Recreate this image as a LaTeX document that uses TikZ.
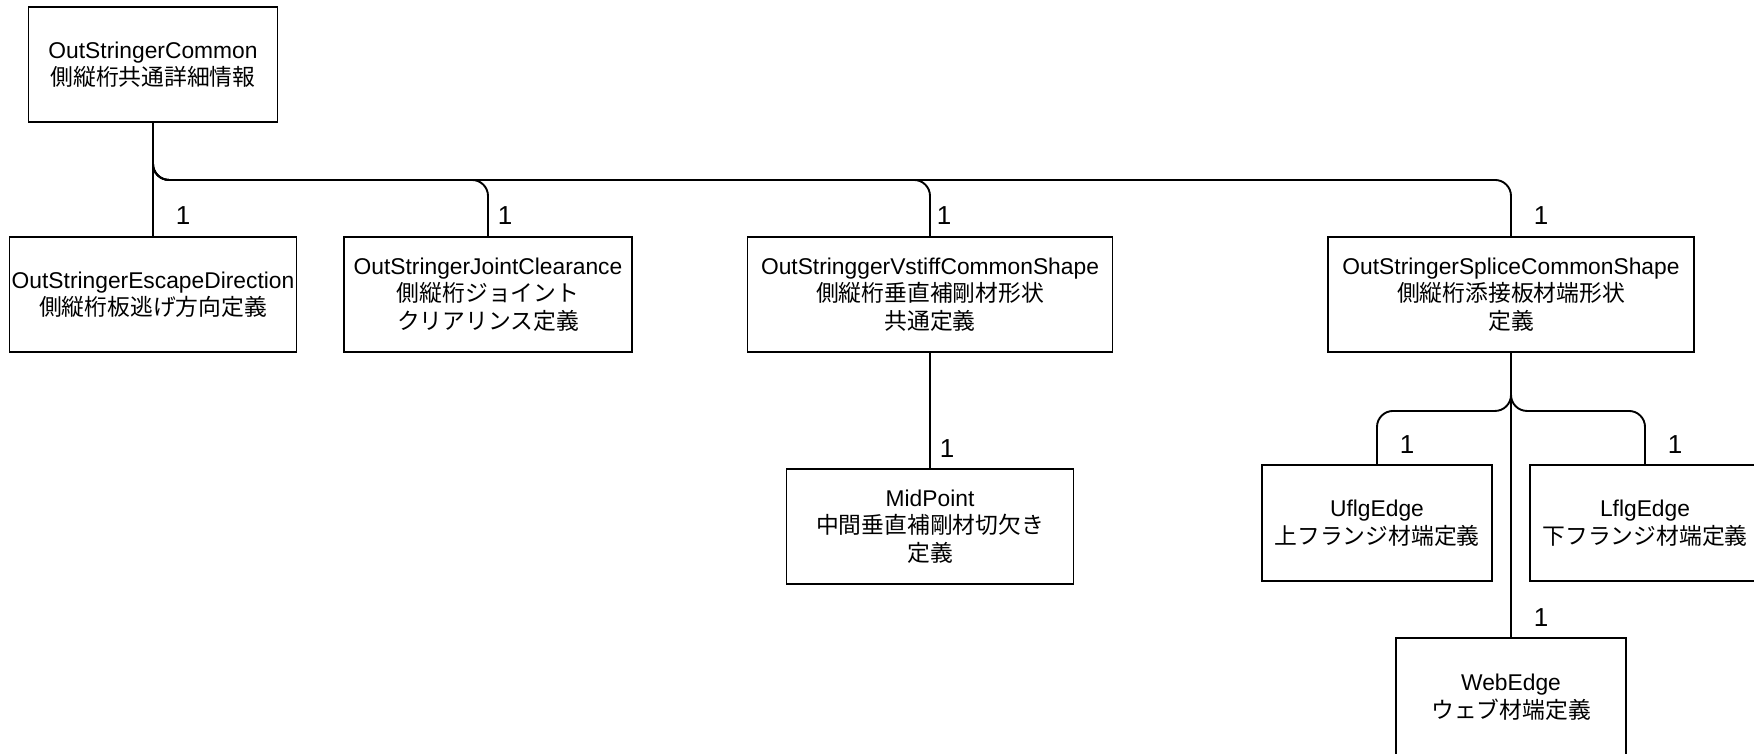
\documentclass[tikz,border=0pt]{standalone}
\usepackage{fontspec}
\setmainfont{Liberation Sans}
\newfontfamily\jp{Noto Sans CJK JP}
\usepackage{tikz}
\usetikzlibrary{calc}

\begin{document}
\begin{tikzpicture}[x=1pt, y=-1pt]

        % 1. Fix the drawing limits (pixel grid of the sheet, y going down)
        \useasboundingbox (0,0) rectangle (1754,753);
        \pgfmathsetmacro{\busdrop}{57} % Drop from a parent box down to its bus line

        % 2. Styles for the class boxes, the links and the multiplicities
        \tikzset{
            entity/.style={draw, line width=1.9pt, rectangle, inner sep=0pt, minimum height=115pt,
                align=center, font=\fontsize{22.8}{27.4}\selectfont},
            link/.style={line width=1.9pt, rounded corners=16pt},
            mult/.style={font=\fontsize{26}{30}\selectfont, inner sep=0pt, xshift=#1, yshift=20pt},
            mult/.default=30pt
        }

        % 3. Root box
        \node[entity, minimum width=249pt] (common) at (153,64.5) {OutStringerCommon\\{\jp 側縦桁共通詳細情報}};

        % 4. First level boxes
        \node[entity, minimum width=287pt] (escape) at (153,294.5) {OutStringerEscapeDirection\\{\jp 側縦桁板逃げ方向定義}};
        \node[entity, minimum width=288pt] (joint) at (488,294.5) {OutStringerJointClearance\\{\jp 側縦桁ジョイント}\\{\jp クリアリンス定義}};
        \node[entity, minimum width=365pt] (vstiff) at (930,294.5) {OutStringgerVstiffCommonShape\\{\jp 側縦桁垂直補剛材形状}\\{\jp 共通定義}};
        \node[entity, minimum width=366pt] (splice) at (1511,294.5) {OutStringerSpliceCommonShape\\{\jp 側縦桁添接板材端形状}\\{\jp 定義}};

        % 5. Second level boxes
        \node[entity, minimum width=287pt] (midpoint) at (930,526.5) {MidPoint\\{\jp 中間垂直補剛材切欠き}\\{\jp 定義}};
        \node[entity, minimum width=230pt, minimum height=116pt] (uflg) at (1377,523) {UflgEdge\\{\jp 上フランジ材端定義}};
        \node[entity, minimum width=230pt, minimum height=116pt] (lflg) at (1645,523) {LflgEdge\\{\jp 下フランジ材端定義}};
        \node[entity, minimum width=230pt, minimum height=118pt] (web) at (1511,697) {WebEdge\\{\jp ウェブ材端定義}};

        % 6. Links from the root
        \draw[link] (common.south) -- (escape.north) node[mult] {1};
        \draw[link] (common.south) -- ++(0,\busdrop) -| (joint.north) node[mult=17pt] {1};
        \draw[link] (common.south) -- ++(0,\busdrop) -| (vstiff.north) node[mult=14pt] {1};
        \draw[link] (common.south) -- ++(0,\busdrop) -| (splice.north) node[mult] {1};

        % 7. Links below the first level
        \draw[link] (vstiff.south) -- (midpoint.north) node[mult=17pt] {1};
        \draw[link] (splice.south) -- ++(0,\busdrop+1) -| (uflg.north) node[mult] {1};
        \draw[link] (splice.south) -- ++(0,\busdrop+1) -| (lflg.north) node[mult] {1};
        \draw[link] (splice.south) -- (web.north) node[mult] {1};

    \end{tikzpicture}
\end{document}
